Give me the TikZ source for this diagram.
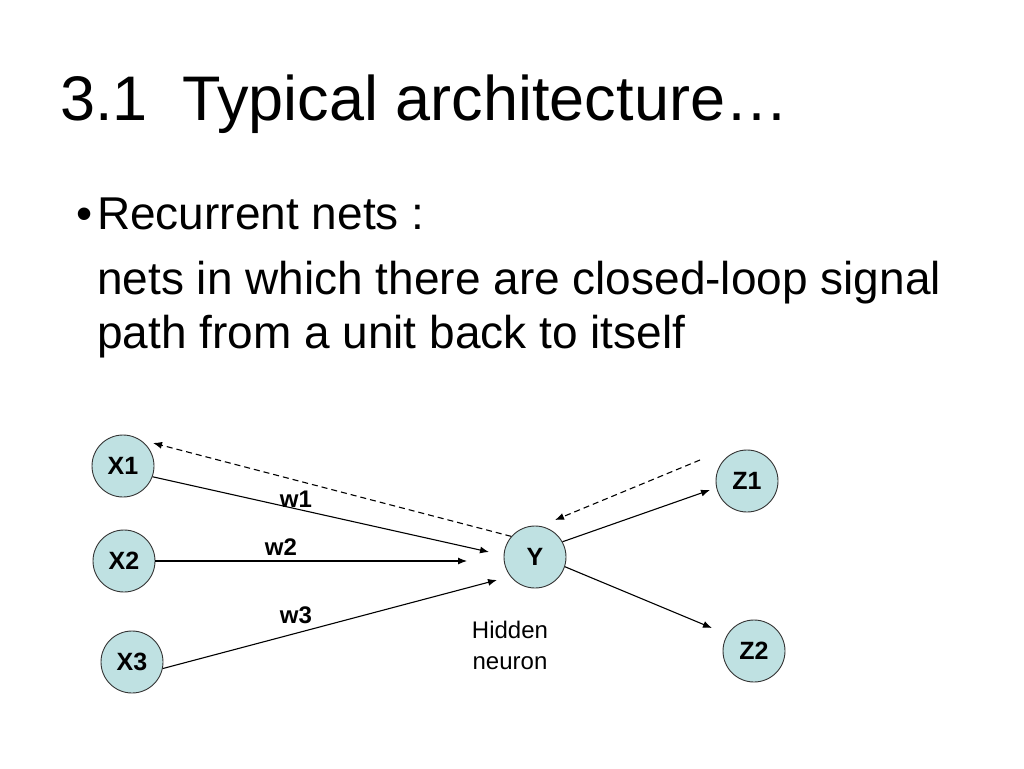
\documentclass[tikz,border=0pt]{standalone}
\usepackage{fontspec}
\setmainfont{Liberation Sans}
\usetikzlibrary{arrows.meta}
\definecolor{nodefill}{RGB}{191,225,226}
\begin{document}
\begin{tikzpicture}[x=1pt,y=-1pt,
  neuron/.style={circle,draw=black!80,line width=0.9pt,fill=nodefill,minimum size=62pt,inner sep=0pt,font=\fontsize{25}{30}\selectfont\bfseries},
  conn/.style={line width=1.1pt,-{Latex[length=9pt,width=7pt]}},
  dconn/.style={conn,dash pattern=on 6pt off 4pt},
  wlabel/.style={font=\fontsize{24}{28}\selectfont\bfseries,anchor=base,inner sep=0pt},
  bodytext/.style={anchor=base west,inner sep=0pt,font=\fontsize{46}{55}\selectfont}]
\useasboundingbox[fill=white] (0,0) rectangle (1024,768);
\node[anchor=base west,inner sep=0pt,font=\fontsize{63}{75}\selectfont] (title) at (60,120) {3.1\hspace{0.55em}Typical architecture…};
\node[bodytext] (bullet) at (76,229) {•};
\node[bodytext] (b1) at (97,229) {Recurrent nets :};
\node[bodytext] (b2) at (97,294) {nets in which there are closed-loop signal};
\node[bodytext] (b3) at (97,348) {path from a unit back to itself};

\node[neuron] (X1) at (123,466) {X1};
\node[neuron] (X2) at (124,561) {X2};
\node[neuron] (X3) at (132,662) {X3};
\node[neuron] (Y) at (535,557) {Y};
\node[neuron] (Z1) at (747,481) {Z1};
\node[neuron] (Z2) at (754,651) {Z2};

\node[align=center,inner sep=0pt,font=\fontsize{24}{31}\selectfont] (hid) at (510,645) {Hidden\\neuron};

\coordinate (t1) at (489,552);
\coordinate (t2) at (467,561);
\coordinate (t3) at (497,580);
\coordinate (d1) at (153,443);
\coordinate (d2s) at (700,460);
\coordinate (d2e) at (555,520);
\coordinate (tz1) at (710,490);
\coordinate (tz2) at (712,628);

\draw[conn] (X1.-20) -- (t1);
\draw[conn] (X2.east) -- (t2);
\draw[conn] (X3.-12) -- (t3);
\draw[dconn] (Y.139) -- (d1);
\draw[dconn] (d2s) -- (d2e);
\draw[conn] (Y.29) -- (tz1);
\draw[conn] (Y.-18) -- (tz2);

\node[wlabel] (w1) at (296,507) {w1};
\node[wlabel] (w2) at (281,555) {w2};
\node[wlabel] (w3) at (296,623) {w3};
\end{tikzpicture}
\end{document}
